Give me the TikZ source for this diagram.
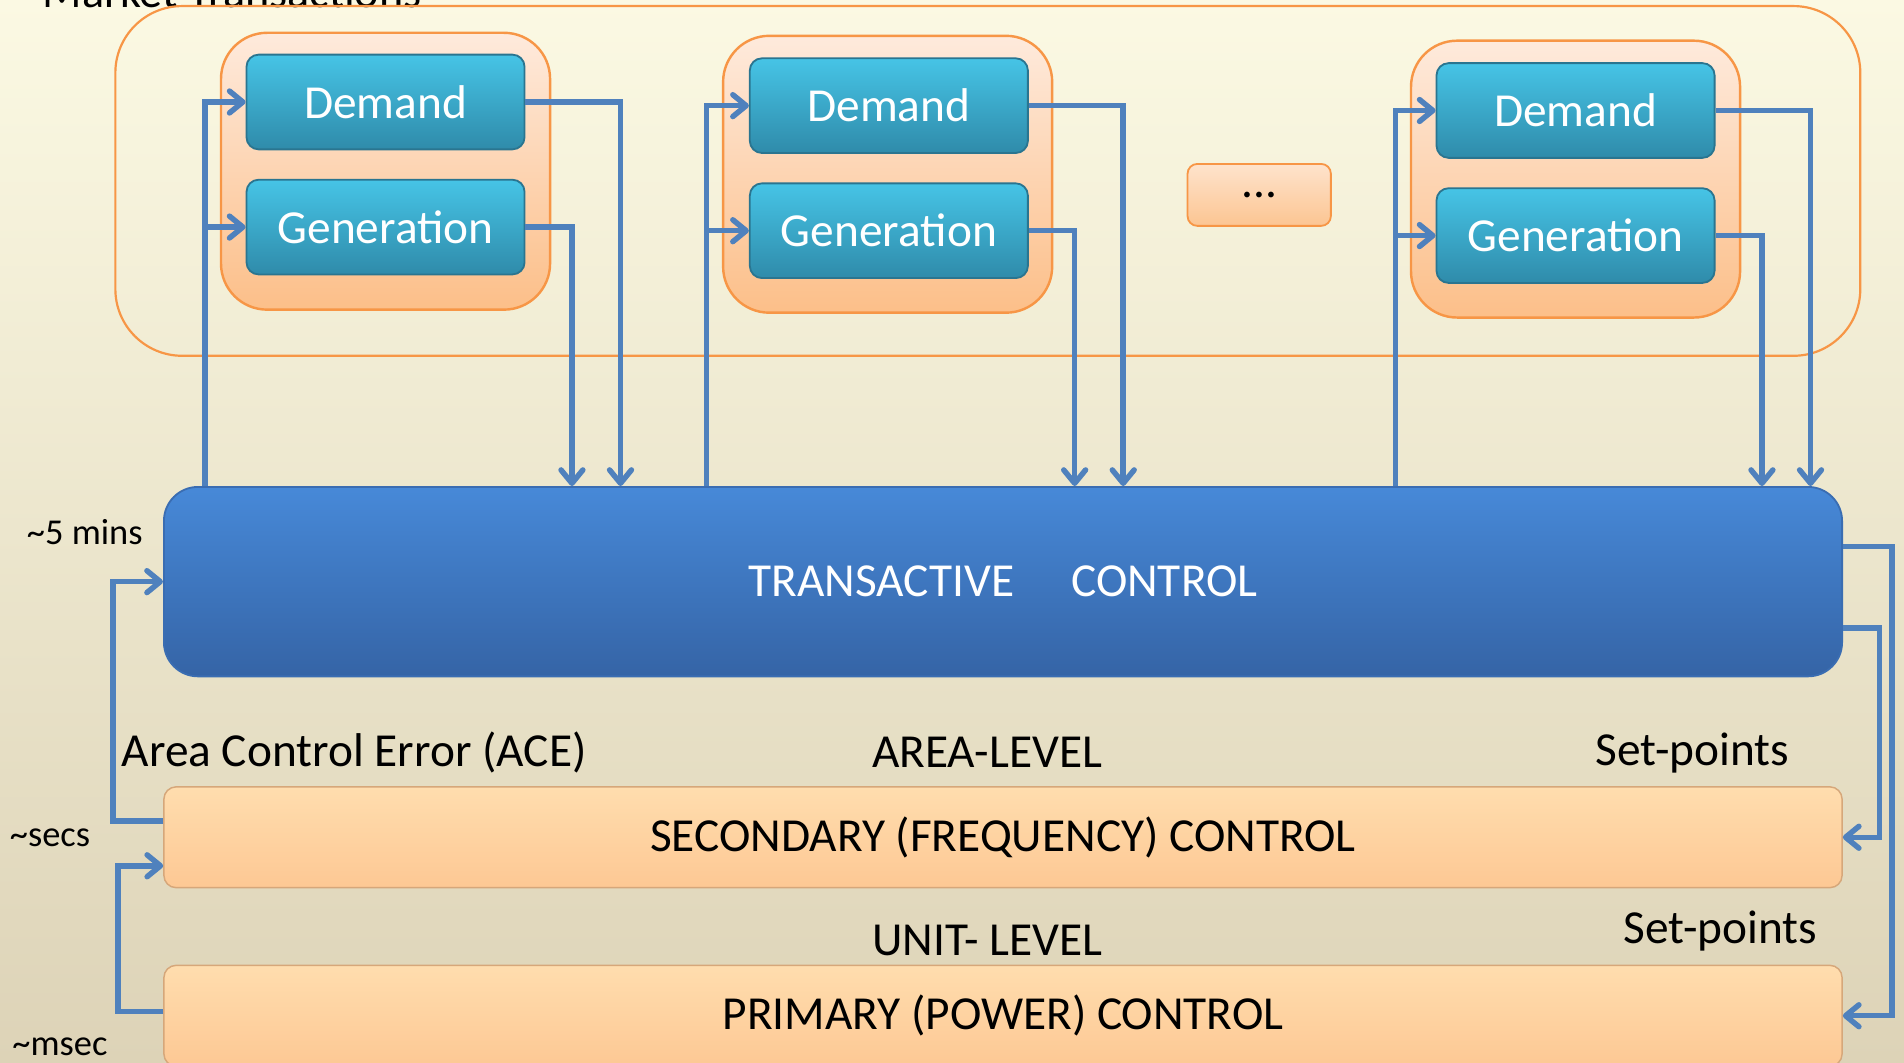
\documentclass[tikz,border=0pt]{standalone}
\usepackage{fontspec}
\setmainfont{Carlito}
\usetikzlibrary{arrows.meta}
\definecolor{arrowc}{HTML}{4F81BD}
\definecolor{bgtop}{HTML}{FBF9E3}
\definecolor{bgbot}{HTML}{DDD3B7}
\definecolor{orangeedge}{HTML}{F79646}
\definecolor{grptop}{HTML}{FEEADC}
\definecolor{grpbot}{HTML}{FCBF89}
\definecolor{tealtop}{HTML}{46C4E6}
\definecolor{tealbot}{HTML}{2F8BAA}
\definecolor{tealedge}{HTML}{2A7590}
\definecolor{tctop}{HTML}{4789D8}
\definecolor{tcbot}{HTML}{3564A6}
\definecolor{tcedge}{HTML}{3A6DB2}
\definecolor{bartop}{HTML}{FFDDAE}
\definecolor{barbot}{HTML}{FDC894}
\definecolor{baredge}{HTML}{D6A77A}
\definecolor{dotstop}{HTML}{FEE3CC}
\definecolor{dotsbot}{HTML}{FCC592}
\begin{document}
\begin{tikzpicture}[x=1pt,y=-1pt,
  big/.style={font=\fontsize{39}{46}\selectfont},
  small/.style={font=\fontsize{30}{36}\selectfont},
  tealbox/.style={big, text=white, draw=tealedge, line width=1.5pt, rounded corners=10pt,
    top color=tealtop, bottom color=tealbot, minimum width=229pt, minimum height=78pt, inner sep=0pt},
  grpbox/.style={draw=orangeedge, line width=2pt, rounded corners=38pt,
    top color=grptop, bottom color=grpbot, minimum width=271pt, minimum height=228pt, inner sep=0pt},
  barbox/.style={big, draw=baredge, line width=1.2pt, rounded corners=10pt,
    top color=bartop, bottom color=barbot, minimum width=1382pt, minimum height=83pt, inner sep=0pt},
  conn/.style={draw=arrowc, line width=4.5pt},
  arr/.style={conn, -{Straight Barb[length=11pt,width=18pt,round]}},
  lab/.style={big, inner sep=0pt},
  slab/.style={small, inner sep=0pt},
]
\useasboundingbox (0,0) rectangle (1568,875);
\clip (0,0) rectangle (1568,875);
\shade[top color=bgtop, bottom color=bgbot] (0,0) rectangle (1568,875);

% market area
\node[lab, font=\fontsize{38}{46}\selectfont, anchor=base west] (mlabel) at (35,6) {Market Transactions};
\node[draw=orangeedge, line width=1.8pt, rounded corners=55pt, minimum width=1437pt, minimum height=288pt, inner sep=0pt] (market) at (813.5,149) {};

% groups
\node[grpbox] (grp1) at (317.5,141) {};
\node[grpbox] (grp2) at (731,143.5) {};
\node[grpbox] (grp3) at (1297.5,147.5) {};
\node[big, draw=orangeedge, line width=1.5pt, rounded corners=8pt, top color=dotstop, bottom color=dotsbot,
  minimum width=118pt, minimum height=51pt, inner sep=0pt] (dots) at (1037,160.5) {...};

\node[tealbox] (d1) at (317.5,84) {Demand};
\node[tealbox] (g1) at (317.5,187) {Generation};
\node[tealbox] (d2) at (732,87) {Demand};
\node[tealbox] (g2) at (732,190) {Generation};
\node[tealbox] (d3) at (1297.5,91) {Demand};
\node[tealbox] (g3) at (1297.5,194) {Generation};

% transactive control
\node[big, text=white, draw=tcedge, line width=1.5pt, rounded corners=28pt, top color=tctop, bottom color=tcbot,
  minimum width=1382pt, minimum height=156pt, inner sep=0pt] (tc) at (826,479) {TRANSACTIVE\hspace{47pt}CONTROL};

% bars
\node[barbox] (sec) at (826,689.5) {SECONDARY (FREQUENCY) CONTROL};
\node[barbox] (pri) at (826,836.5) {PRIMARY (POWER) CONTROL};

% labels
\node[slab, anchor=west] (t5) at (22,438) {\~{}5 mins};
\node[slab, anchor=west] (tsecs) at (8,690) {\~{}secs};
\node[slab, anchor=west] (tmsec) at (10,862) {\~{}msec};
\node[lab, anchor=base west] (ace) at (100,631) {Area Control Error (ACE)};
\node[lab, anchor=base west] (area) at (718,632) {AREA-LEVEL};
\node[lab, anchor=base west] (sp1) at (1314,630) {Set-points};
\node[lab, anchor=base west] (unit) at (718,787) {UNIT- LEVEL};
\node[lab, anchor=base west] (sp2) at (1337,777) {Set-points};

% connector x/y positions
\coordinate (xin1) at (169,0);
\coordinate (xg1) at (471,0);
\coordinate (xd1) at (511,0);
\coordinate (xin2) at (582,0);
\coordinate (xg2) at (885,0);
\coordinate (xd2) at (925,0);
\coordinate (xin3) at (1149,0);
\coordinate (xg3) at (1451,0);
\coordinate (xd3) at (1491,0);
\coordinate (xr1) at (1558,0);
\coordinate (xr2) at (1548,0);
\coordinate (yr1) at (0,450);
\coordinate (yr2) at (0,517);
\coordinate (xl1) at (93,0);
\coordinate (xl2) at (97,0);
\coordinate (yl1) at (0,676);
\coordinate (yl2) at (0,833);
\coordinate (yl3) at (0,713);

% group connectors
\draw[arr] (tc.north -| xin1) |- (d1.west);
\draw[arr] (g1.west -| xin1) -- (g1.west);
\draw[arr] (d1.east) -| (tc.north -| xd1);
\draw[arr] (g1.east) -| (tc.north -| xg1);

\draw[arr] (tc.north -| xin2) |- (d2.west);
\draw[arr] (g2.west -| xin2) -- (g2.west);
\draw[arr] (d2.east) -| (tc.north -| xd2);
\draw[arr] (g2.east) -| (tc.north -| xg2);

\draw[arr] (tc.north -| xin3) |- (d3.west);
\draw[arr] (g3.west -| xin3) -- (g3.west);
\draw[arr] (d3.east) -| (tc.north -| xd3);
\draw[arr] (g3.east) -| (tc.north -| xg3);

% right side
\draw[arr] (tc.east |- yr1) -| (xr1 |- pri.east) -- (pri.east);
\draw[arr] (tc.east |- yr2) -| (xr2 |- sec.east) -- (sec.east);

% left side
\draw[arr] (sec.west |- yl1) -| (xl1 |- tc.west) -- (tc.west);
\draw[arr] (pri.west |- yl2) -| (xl2 |- yl3) -- (sec.west |- yl3);
\end{tikzpicture}
\end{document}
